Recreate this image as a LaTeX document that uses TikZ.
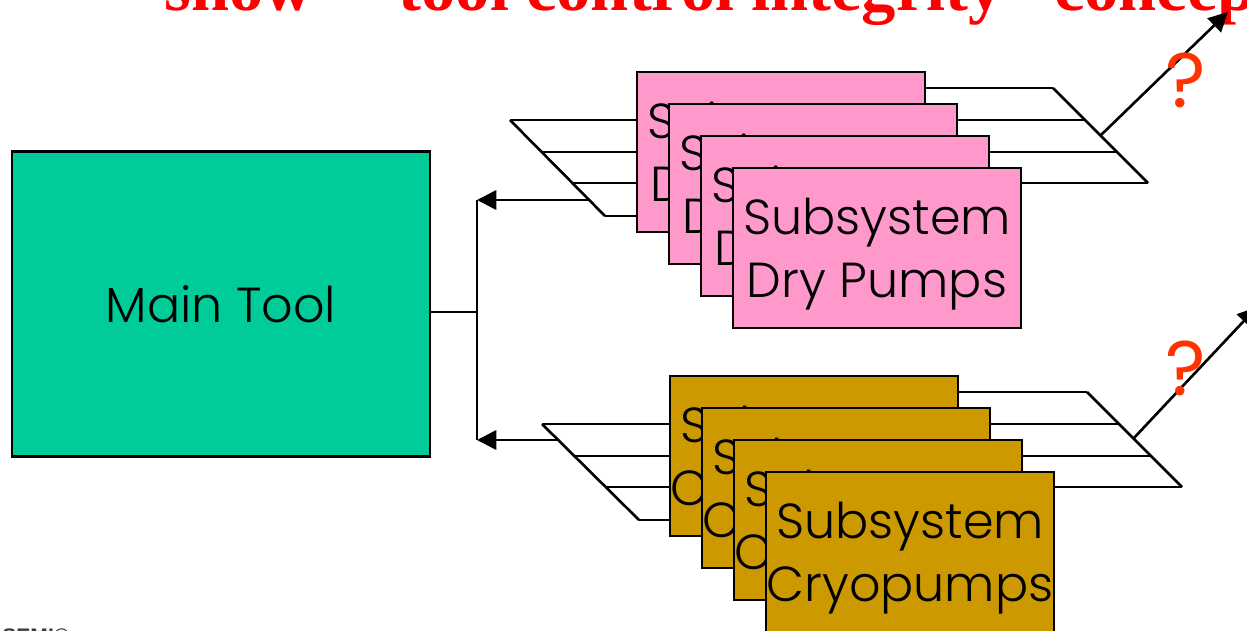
\documentclass[tikz,border=0pt]{standalone}
\usepackage{fontspec}
\newfontfamily\gothic{Poppins Light}
\newfontfamily\askfont{Poppins}
\newfontfamily\headfont{Liberation Serif}
\newfontfamily\logofont{Liberation Sans}
\usetikzlibrary{positioning, arrows.meta, calc}

\definecolor{toolgreen}{RGB}{0,204,153}
\definecolor{drypink}{RGB}{255,153,204}
\definecolor{cryogold}{RGB}{204,153,0}
\definecolor{askred}{RGB}{255,51,0}
\definecolor{titlered}{RGB}{255,0,0}
\definecolor{logogray}{RGB}{60,60,60}

\begin{document}
\begin{tikzpicture}[x=0.02cm, y=-0.02cm,
    subbox/.style={draw, line width=1.6pt, inner sep=0pt, minimum width=5.76cm, minimum height=3.2cm},
    subtext/.style={inner sep=0pt, align=center, font=\gothic\fontsize{28}{36}\selectfont},
    bus/.style={line width=1.5pt},
    link/.style={line width=1.5pt, -{Triangle[length=11pt, width=11pt]}},
    ask/.style={text=askred, inner sep=0pt, font=\askfont\fontsize{44}{44}\selectfont}]
        \useasboundingbox (0,0) rectangle (1247,631);
        \clip (0,0) rectangle (1247,631);

        % Draw title and logo
        \node[anchor=base west, inner sep=0pt, text=titlered, font=\headfont\bfseries\fontsize{39}{42}\selectfont] (title) at (130,11) {“show” “tool control integrity” concept};
        \node[anchor=north west, inner sep=0pt, text=logogray, font=\logofont\bfseries\fontsize{12}{12}\selectfont] (logo) at (2,628) {SEMI®};

        % Draw main tool
        \node[draw, line width=1.6pt, fill=toolgreen, inner sep=0pt, minimum width=8.36cm, minimum height=6.1cm,
            font=\gothic\fontsize{28}{36}\selectfont] (main) at (221,304) {Main Tool};

        % Draw buses
        \draw[bus] (510,120) -- (605,216);
        \draw[bus] (1053,88) -- (1148,183);
        \draw[bus] (700,88) -- (1053,88);
        \draw[bus] (510,120) -- (1085,120);
        \draw[bus] (542,152) -- (1117,152);
        \draw[bus] (573,183) -- (1148,183);
        \draw[bus] (605,216) -- (800,216);

        \draw[bus] (542,424) -- (639,520);
        \draw[bus] (1087,392) -- (1182,487);
        \draw[bus] (800,392) -- (1087,392);
        \draw[bus] (542,424) -- (1119,424);
        \draw[bus] (574,456) -- (1150,456);
        \draw[bus] (605,487) -- (1182,487);
        \draw[bus] (639,520) -- (850,520);

        % Draw subsystem stacks
        \foreach \i in {0,...,3} {
            \node[subbox, fill=drypink] (dry\i) at (781+32*\i,152+32*\i) {};
            \node[subtext] (drytext\i) at ($(dry\i.center)+(0,6)$) {Subsystem\\Dry Pumps};
        }
        \foreach \i in {0,...,3} {
            \node[subbox, fill=cryogold] (cryo\i) at (814+32*\i,456+32*\i) {};
            \node[subtext] (cryotext\i) at ($(cryo\i.center)+(0,6)$) {Subsystem\\Cryopumps};
        }

        % Draw connections
        \coordinate (hub) at (477,312);
        \coordinate (hubtop) at (477,200);
        \coordinate (hubbot) at (477,440);
        \coordinate (drybus) at (589,200);
        \coordinate (cryobus) at (558,440);
        \coordinate (dryout) at (1101,135);
        \coordinate (drysky) at (1228,12);
        \coordinate (cryoout) at (1133,439);
        \coordinate (cryosky) at (1257,307);
        \draw[bus] (main.east |- hub) -- (hub);
        \draw[bus] (hubtop) -- (hubbot);
        \draw[link] (drybus) -- (hubtop);
        \draw[link] (cryobus) -- (hubbot);
        \draw[link] (dryout) -- (drysky);
        \draw[link] (cryoout) -- (cryosky);

        % Draw question marks
        \node[ask] (askdry) at (1186,80) {?};
        \node[ask] (askcryo) at (1186,368) {?};
    \end{tikzpicture}
\end{document}
